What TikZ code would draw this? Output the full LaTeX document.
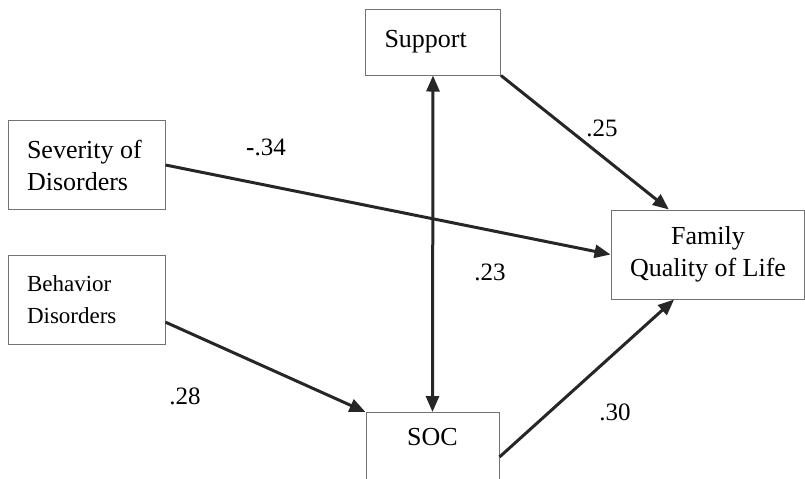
\documentclass[tikz,border=0pt]{standalone}
\usepackage{fontspec}
\setmainfont{Liberation Serif}
\usetikzlibrary{arrows.meta,positioning,calc}

\begin{document}
\begin{tikzpicture}[
  x=0.5pt, y=-0.5pt,
  box/.style={draw=black!55, line width=0.5pt, inner xsep=9.5pt, font=\fontsize{13}{16}\selectfont},
  leftbox/.style={box, align=flush left, text width=#1},
  line/.style={-{Triangle[length=8pt,width=6.5pt]}, line width=1.5pt, black!85},
  both/.style={{Triangle[length=8pt,width=6.5pt]}-{Triangle[length=8pt,width=6.5pt]}, line width=1.5pt, black!85},
  coef/.style={font=\fontsize{12.5}{15}\selectfont}
]
\useasboundingbox (0,0) rectangle (805,478);
\clip (0,0) rectangle (805,478);

\node[leftbox=48.5pt, minimum width=67pt, minimum height=33pt] (sup) at (433,42) {Support};
\node[leftbox=59.5pt, minimum width=78.5pt, minimum height=44.5pt] (sev) at (86.5,165) {Severity of\\Disorders};
\node[leftbox=59.5pt, minimum width=78.5pt, minimum height=44.5pt, font=\fontsize{11.5}{16}\selectfont] (beh) at (86.5,299.5) {Behavior\\Disorders};
\node[box, align=center, minimum width=96pt, minimum height=44.5pt] (fq) at (708,254.5) {Family\\Quality of Life};
\node[box, anchor=north, minimum width=66.5pt, inner ysep=8pt, text depth=25pt] (soc) at (432.5,412) {SOC};

\draw[line] (sup.south east) -- (fq.131);
\draw[line] (sev.east) -- (fq.west);
\draw[line] (beh.-16) -- (soc.north west);
\draw[line] ($(soc.north east)+(0,45)$) -- (fq.-127);
\draw[both] (sup.south) -- (soc.north);

\node[coef] (c25) at (602,128) {.25};
\node[coef] (c34) at (266,147) {\textbf{-}.34};
\node[coef] (c23) at (490,272) {.23};
\node[coef] (c28) at (185,396) {.28};
\node[coef] (c30) at (615,412) {.30};
\end{tikzpicture}
\end{document}
